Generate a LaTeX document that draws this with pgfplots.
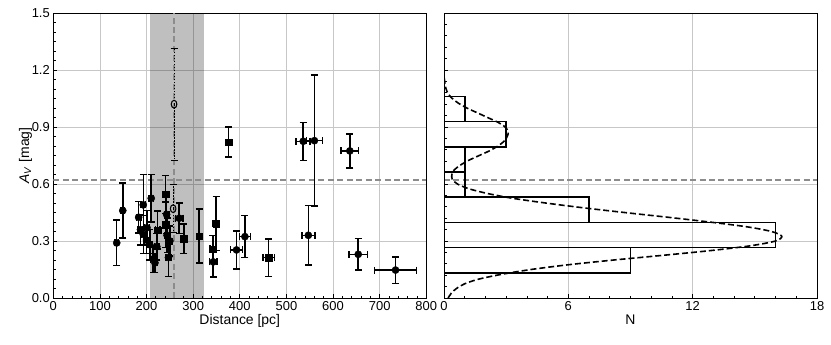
\documentclass[border=0pt]{standalone}
\usepackage{fontspec}
\setmainfont{Liberation Sans}
\usepackage{pgfplots}
\pgfplotsset{compat=1.18}
\pgfplotstableread{
x y ex ey
136 0.29 4 0.12
149 0.46 4 0.145
183 0.425 5 0.083
187 0.36 5 0.08
193 0.335 5 0.1
193 0.49 5 0.16
200 0.305 5 0.07
201 0.37 5 0.09
207 0.28 5 0.08
210 0.525 5 0.125
214 0.205 5 0.07
218 0.185 5 0.05
222 0.27 5 0.07
243 0.44 5 0.1
244 0.33 5 0.09
247 0.213 5 0.1
250 0.30 5 0.08
270 0.42 8 0.08
343 0.19 8 0.08
393 0.253 13 0.1
411 0.323 12 0.11
536 0.825 15 0.1
547 0.33 14 0.157
560 0.828 17 0.345
636 0.774 19 0.09
654 0.23 20 0.082
734 0.147 45 0.07
}\circles
\pgfplotstableread{
x y ex ey
224 0.358 5 0.1
241 0.385 5 0.12
241 0.545 5 0.1
280 0.312 5 0.078
313 0.326 5 0.143
349 0.392 6 0.143
342 0.258 6 0.07
462 0.212 12 0.098
376 0.82 5 0.079
}\squares
\pgfplotstableread{
x y ex ey
259 1.02 0 0.295
257 0.47 0 0.125
}\openpts
\begin{document}
\begin{tikzpicture}[x=1bp,y=1bp]
\useasboundingbox (0,0) rectangle (831,344);
\pgfplotsset{
  myax/.style={
    scale only axis, width=373bp, height=285bp,
    anchor=south west,
    tick label style={font=\fontsize{13}{15}\selectfont},
    label style={font=\fontsize{14}{16}\selectfont},
    /pgf/number format/assume math mode=true,
    grid=major, major grid style={black!22, line width=0.8pt},
    axis line style={black, line width=0.9pt},
    tick style={black, line width=0.8pt},
    major tick length=4bp, minor tick length=2.5bp,
    tick align=inside, tick pos=left,
    ymin=0, ymax=1.5, ytick={0,0.3,0.6,0.9,1.2,1.5},
    xlabel style={yshift=3bp},
  },
  ebar/.style={
    error bars/.cd, x dir=both, x explicit, y dir=both, y explicit,
    error bar style={line width=1.5pt, black, solid},
    error mark options={rotate=90, mark size=3.5bp, line width=1.5pt, black, solid},
  },
}
\begin{axis}[myax, at={(53.3bp,46bp)},
  xmin=0, xmax=800, xtick={0,100,...,800}, minor x tick num=4, minor y tick num=5,
  xlabel={Distance [pc]},
  ylabel={\textit{A}\textsubscript{\textit{V}} [mag]},
  y tick label style={/pgf/number format/.cd, fixed, fixed zerofill, precision=1},
  ylabel style={yshift=-7bp}]
\addplot[draw=none, fill=black, fill opacity=0.25] coordinates {(208,0) (324,0) (324,1.5) (208,1.5)} -- cycle;
\addplot[black!45, line width=1.5pt, dash pattern=on 6pt off 3.5pt] coordinates {(0,0.62) (800,0.62)};
\addplot[black!45, line width=1.5pt, dash pattern=on 6pt off 3.5pt] coordinates {(259,0) (259,1.5)};
\addplot[only marks, black, mark=*, mark size=3.6bp, ebar] table[x=x, y=y, x error=ex, y error=ey] {\circles};
\addplot[only marks, black, mark=square*, mark size=3.2bp, ebar] table[x=x, y=y, x error=ex, y error=ey] {\squares};
\addplot[only marks, black, mark=o, mark size=2.8bp, mark options={line width=1.1pt, yscale=1.4},
  error bars/.cd, y dir=both, y explicit,
  error bar style={line width=1.1pt, black, dash pattern=on 1.5pt off 1.5pt},
  error mark options={rotate=90, mark size=3.5bp, line width=1.1pt, black, solid}]
  table[x=x, y=y, y error=ey] {\openpts};
\end{axis}
\begin{axis}[myax, at={(444bp,46bp)},
  xmin=0, xmax=18, xtick={0,6,12,18}, minor x tick num=5, minor y tick num=4,
  yticklabels={}, xlabel={N}]
\addplot[black!45, line width=1.5pt, dash pattern=on 6pt off 3.5pt] coordinates {(0,0.62) (18,0.62)};
\addplot[black, line width=1.6pt] coordinates {(0,0.133) (9,0.133) (9,0.2655) (0,0.2655) (0,0.133)};
\addplot[black, line width=1.6pt] coordinates {(0,0.2655) (16,0.2655) (16,0.398) (0,0.398) (0,0.2655)};
\addplot[black, line width=1.6pt] coordinates {(0,0.398) (7,0.398) (7,0.5305) (0,0.5305) (0,0.398)};
\addplot[black, line width=1.6pt] coordinates {(0,0.5305) (1,0.5305) (1,0.663) (0,0.663) (0,0.5305)};
\addplot[black, line width=1.6pt] coordinates {(0,0.663) (1,0.663) (1,0.7955) (0,0.7955) (0,0.663)};
\addplot[black, line width=1.6pt] coordinates {(0,0.7955) (3,0.7955) (3,0.928) (0,0.928) (0,0.7955)};
\addplot[black, line width=1.6pt] coordinates {(0,0.928) (1,0.928) (1,1.0605) (0,1.0605) (0,0.928)};
\addplot[black, line width=1.6pt, dash pattern=on 6pt off 3pt, smooth] coordinates {
(0.2,0.000) (0.35,0.025) (0.6,0.050) (1.0,0.075) (1.7,0.100) (2.8,0.125) (4.2,0.150)
(6.0,0.175) (8.2,0.200) (10.6,0.225) (12.9,0.250) (14.8,0.275) (16.0,0.300) (16.3,0.325)
(15.8,0.350) (14.6,0.375) (12.8,0.400) (10.8,0.425) (8.7,0.450) (6.7,0.475) (4.9,0.500)
(3.3,0.525) (2.1,0.550) (1.2,0.575) (0.65,0.600) (0.4,0.625) (0.38,0.650) (0.5,0.675)
(0.8,0.700) (1.2,0.725) (1.7,0.750) (2.2,0.775) (2.6,0.800) (2.9,0.825) (3.05,0.850)
(3.1,0.875) (2.95,0.900) (2.6,0.925) (2.1,0.950) (1.6,0.975) (1.1,1.000) (0.7,1.025)
(0.4,1.050) (0.2,1.075) (0.1,1.100) (0.05,1.125) (0.02,1.150) (0,1.200) (0,1.500)};
\end{axis}
\end{tikzpicture}
\end{document}
